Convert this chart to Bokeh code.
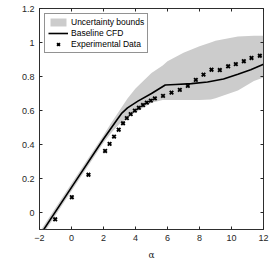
import math
from bokeh.plotting import figure
from bokeh.models import (Range1d, LinearAxis, FixedTicker, Label, Legend, LegendItem,
                          CustomLabelingPolicy)
from bokeh.embed import file_html
from bokeh.resources import INLINE

# Experimental data
alpha_exp = [-1.02, 0.02, 1.06, 2.1, 2.38, 2.66, 2.95, 3.22, 3.46, 3.7, 3.96, 4.21, 4.47, 4.71, 4.96, 5.21,
             5.72, 6.25, 6.77, 7.27, 7.77, 8.25, 8.75, 9.27, 9.79, 10.27, 10.77, 11.25, 11.77]
cl_exp = [-0.04, 0.09, 0.222, 0.362, 0.404, 0.446, 0.487, 0.525, 0.555, 0.579, 0.599, 0.616, 0.632, 0.646,
          0.658, 0.671, 0.686, 0.705, 0.721, 0.745, 0.78, 0.811, 0.84, 0.838, 0.86, 0.873, 0.89, 0.909, 0.922]

# Baseline CFD
alpha_cfd = [-2.0, 0.0, 2.0, 2.8, 3.15, 3.5, 4.15, 5.0, 5.86, 6.5, 7.5, 8.5, 9.5, 10.4, 11.2, 12.0]
cl_cfd = [-0.138, 0.148, 0.432, 0.54, 0.585, 0.615, 0.655, 0.70, 0.75, 0.753, 0.758, 0.768, 0.785, 0.813, 0.84, 0.872]

# Uncertainty bounds
alpha_band = [-2.0, 0.0, 2.0, 2.5, 3.0, 3.5, 4.0, 5.0, 5.7, 6.0, 7.0, 8.0, 8.7, 9.0, 10.4, 11.4, 12.0]
cl_upper = [-0.115, 0.17, 0.455, 0.53, 0.60, 0.67, 0.73, 0.82, 0.865, 0.89, 0.94, 0.978, 1.0, 1.01, 1.035, 1.04, 1.04]
cl_lower = [-0.16, 0.126, 0.41, 0.47, 0.52, 0.558, 0.59, 0.645, 0.662, 0.662, 0.662, 0.662, 0.665, 0.672, 0.718, 0.773, 0.794]

x_ticks = [-2, 0, 2, 4, 6, 8, 10, 12]
y_ticks = [0, 0.2, 0.4, 0.6, 0.8, 1.0, 1.2]
y_tick_labels = ["0", "0.2", "0.4", "0.6", "0.8", "1", "1.2"]

FONT = "Liberation Sans"
AXC = "#262626"

p = figure(width=269, height=262, output_backend="svg", toolbar_location=None,
           x_range=Range1d(-2, 12), y_range=Range1d(-0.1, 1.2),
           min_border_left=39, min_border_right=6, min_border_top=8, min_border_bottom=0)
p.grid.visible = False
p.outline_line_color = AXC
p.outline_line_width = 0.8

band = p.varea(x=alpha_band, y1=cl_lower, y2=cl_upper, fill_color="#cccccc")
line = p.line(alpha_cfd, cl_cfd, line_color="black", line_width=1.6)
pts = p.scatter(alpha_exp, cl_exp, marker="x", size=5, line_width=1.9, line_color="black")

no_labels = CustomLabelingPolicy(code="return new Set()")

def style_axis(ax, show_labels=True):
    ax.major_tick_in = 3
    ax.major_tick_out = 0
    ax.minor_tick_in = 0
    ax.minor_tick_out = 0
    ax.axis_line_color = AXC
    ax.axis_line_width = 0.8
    ax.major_tick_line_color = AXC
    ax.major_label_text_font = FONT
    ax.major_label_text_font_size = "9px"
    ax.major_label_text_color = AXC
    ax.major_label_standoff = 5
    if not show_labels:
        ax.major_label_policy = no_labels
        ax.major_label_text_font_size = "0px"
        ax.major_label_standoff = 0

xa = p.xaxis[0]
ya = p.yaxis[0]
xa.ticker = FixedTicker(ticks=x_ticks)
ya.ticker = FixedTicker(ticks=y_ticks)
ya.major_label_overrides = {t: s for t, s in zip(y_ticks, y_tick_labels)}
style_axis(xa)
style_axis(ya)
xa.axis_label = "α"
xa.axis_label_text_font = "DejaVu Serif"
xa.axis_label_text_font_style = "normal"
xa.axis_label_text_font_size = "9px"
xa.axis_label_text_color = AXC
xa.axis_label_standoff = 6

top = LinearAxis(ticker=FixedTicker(ticks=x_ticks))
right = LinearAxis(ticker=FixedTicker(ticks=y_ticks))
style_axis(top, False)
style_axis(right, False)
p.add_layout(top, "above")
p.add_layout(right, "right")

# C_L label
p.add_layout(Label(x=-2, y=0.537, x_offset=-22, text="C", angle=math.pi / 2,
                   text_font=FONT, text_font_size="10px", text_color=AXC,
                   text_align="center", text_baseline="middle"))
p.add_layout(Label(x=-2, y=0.568, x_offset=-18, text="L", angle=math.pi / 2,
                   text_font=FONT, text_font_size="7px", text_color=AXC,
                   text_align="center", text_baseline="middle"))

legend = Legend(items=[LegendItem(label="Uncertainty bounds", renderers=[band]),
                       LegendItem(label="Baseline CFD", renderers=[line]),
                       LegendItem(label="Experimental Data", renderers=[pts])],
                location="top_left")
legend.label_text_font = FONT
legend.label_text_font_size = "8.5px"
legend.label_text_color = "black"
legend.label_height = 10
legend.glyph_height = 10
legend.glyph_width = 20
legend.label_standoff = 3
legend.spacing = 1
legend.padding = 3
legend.margin = 5
legend.border_line_color = AXC
legend.border_line_width = 0.8
p.add_layout(legend, "center")

open("out.html", "w").write(file_html(p, INLINE))
